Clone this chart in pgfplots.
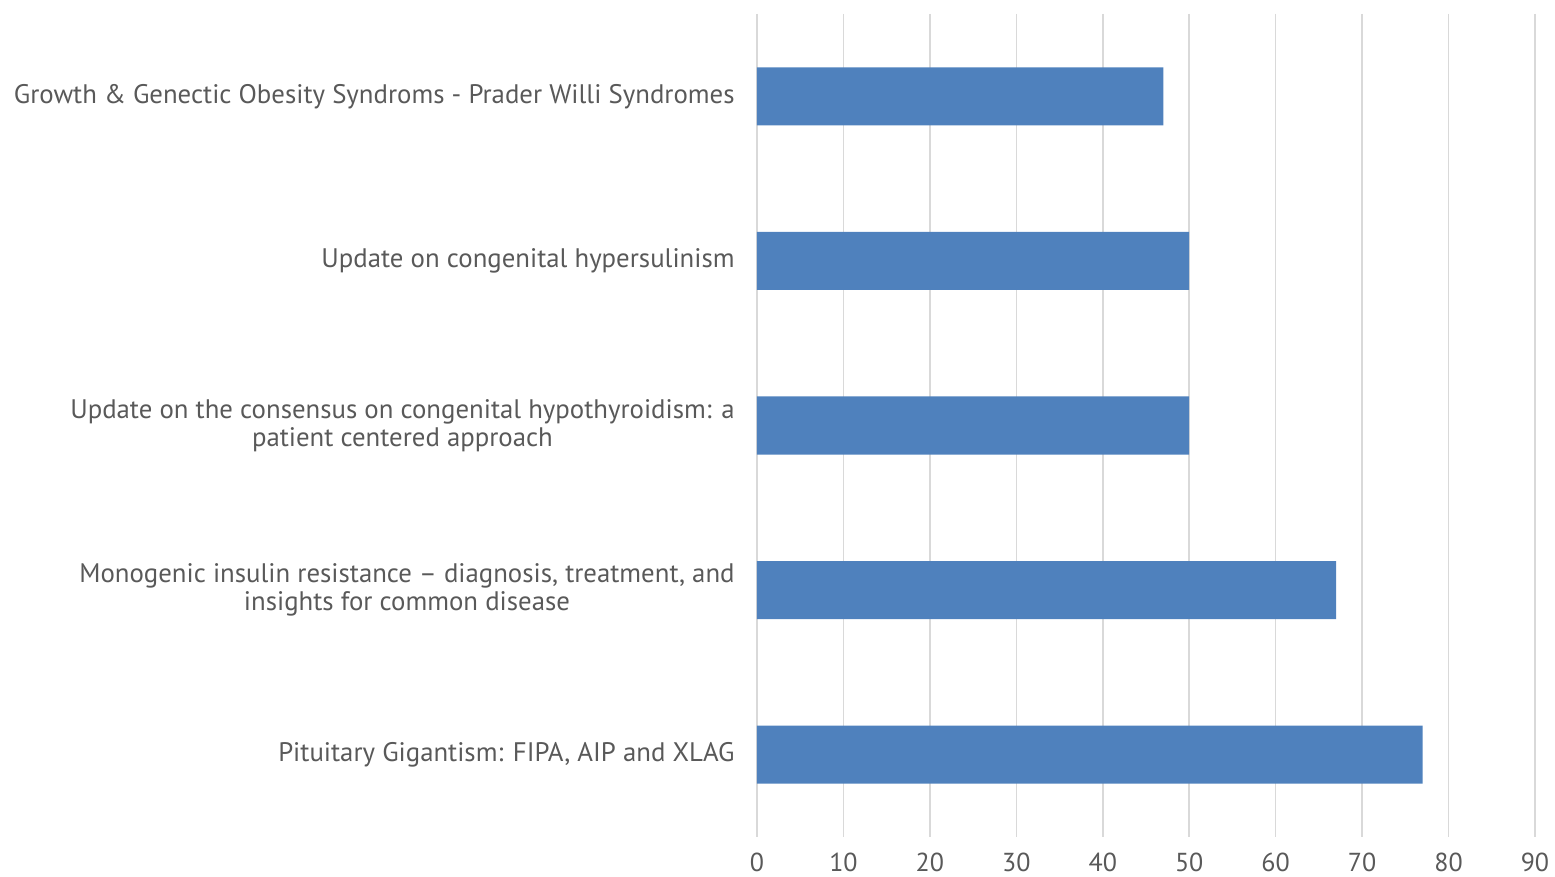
\documentclass[border=0pt]{standalone}
\usepackage{pgfplots}
\pgfplotsset{compat=1.18}
\usepackage{fontspec}
\setmainfont{PT Sans}
\definecolor{barblue}{HTML}{4F81BD}
\definecolor{txt}{HTML}{595959}
\definecolor{gridc}{HTML}{D9D9D9}
\begin{document}
\begin{tikzpicture}[x=1pt,y=1pt]
\useasboundingbox (0,0) rectangle (777.5,438.5);
\begin{axis}[
  at={(378.5pt,20pt)}, anchor=south west,
  scale only axis, width=389pt, height=411.5pt,
  xbar, bar width=29pt,
  xmin=0, xmax=90, xtick={0,10,...,90},
  ymin=-0.5, ymax=4.5, y dir=reverse,
  ytick={0,1,2,3,4},
  yticklabels={
    {Growth \& Genectic Obesity Syndroms - Prader Willi Syndromes},
    {Update on congenital hypersulinism},
    {Update on the consensus on congenital hypothyroidism: a\\patient centered approach},
    {Monogenic insulin resistance – diagnosis, treatment, and\\insights for common disease},
    {Pituitary Gigantism: FIPA, AIP and XLAG}},
  yticklabel style={align=center, font=\fontsize{13.4}{14}\selectfont, text=txt, inner sep=0pt, xshift=-11pt},
  xticklabel style={font=\fontsize{13}{14}\selectfont, text=txt, inner sep=0pt, yshift=-8pt},
  /pgf/number format/assume math mode=true,
  axis line style={draw=none},
  major tick length=0pt,
  xmajorgrids, grid style={draw=gridc, line width=0.8pt},
]
\addplot[fill=barblue, draw=none] coordinates {(47,0) (50,1) (50,2) (67,3) (77,4)};
\end{axis}
\end{tikzpicture}
\end{document}
